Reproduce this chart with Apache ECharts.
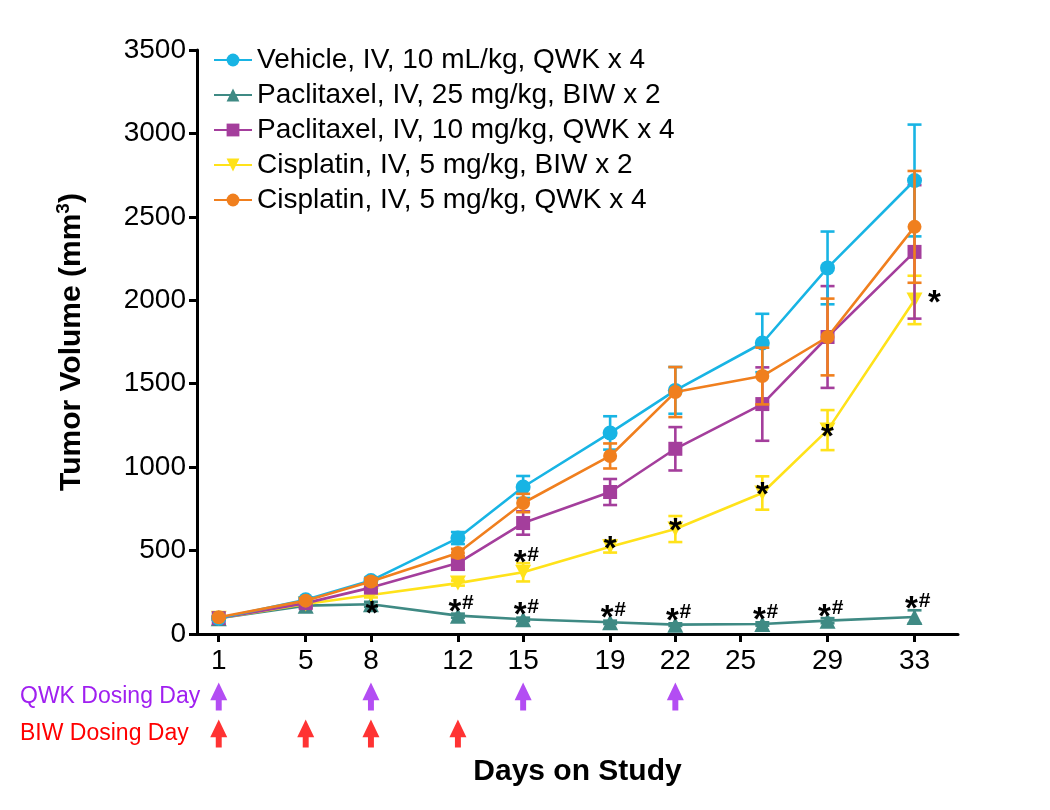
<!DOCTYPE html>
<html>
<head>
<meta charset="utf-8">
<script src="https://cdn.jsdelivr.net/npm/echarts@6/dist/echarts.min.js"></script>
<style>html,body{margin:0;padding:0;background:#fff}#c{width:1050px;height:810px}</style>
</head>
<body>
<div id="c"></div>
<script>
// ---------- data ----------
const days = [1, 5, 8, 12, 15, 19, 22, 26, 29, 33];
const tickDays = [1, 5, 8, 12, 15, 19, 22, 25, 29, 33];
const yTicks = [0, 500, 1000, 1500, 2000, 2500, 3000, 3500];

const seriesNames = [
  'Vehicle, IV, 10 mL/kg, QWK x 4',
  'Paclitaxel, IV, 25 mg/kg, BIW x 2',
  'Paclitaxel, IV, 10 mg/kg, QWK x 4',
  'Cisplatin, IV, 5 mg/kg, BIW x 2',
  'Cisplatin, IV, 5 mg/kg, QWK x 4'
];
const vehicleMean = [95, 205, 320, 575, 881, 1205, 1460, 1744, 2194, 2718];
const vehicleSem  = [10, 15, 18, 36, 66, 100, 140, 175, 218, 335];
const pac25Mean   = [95, 170, 178, 110, 88, 70, 56, 60, 80, 102];
const pac25Sem    = [8, 12, 15, 12, 10, 10, 8, 10, 15, 40];
const pac10Mean   = [95, 185, 278, 425, 665, 851, 1110, 1378, 1780, 2290];
const pac10Sem    = [8, 15, 20, 40, 70, 78, 130, 220, 305, 400];
const cisBiwMean  = [95, 180, 234, 305, 370, 523, 629, 845, 1222, 2002];
const cisBiwSem   = [8, 12, 15, 15, 55, 35, 78, 100, 120, 145];
const cisQwkMean  = [100, 200, 315, 485, 785, 1067, 1450, 1546, 1780, 2440];
const cisQwkSem   = [8, 15, 20, 25, 55, 75, 150, 170, 230, 335];

const sigPac25  = ['', '', '*', '*#', '*#', '*#', '*#', '*#', '*#', '*#'];
const sigCisBiw = ['', '', '', '', '*#', '*', '*', '*', '*', '*'];

const dosingRows = ['QWK Dosing Day', 'BIW Dosing Day'];
const qwkDays = [1, 8, 15, 22];
const biwDays = [1, 5, 8, 12];

// ---------- styles ----------
const FONT = '"Liberation Sans", Arial, sans-serif';
const colors = ['#18B4E4', '#3F8A84', '#A43E9C', '#FFE21A', '#F07F1E'];
const symbols = ['circle', 'triangle', 'rect', 'path://M0,0 L10,0 L5,9 Z', 'circle'];
const symSizes = [15, 16, 14, [16, 15], 14];
const zs = [5, 2, 4, 3, 6];
const means = [vehicleMean, pac25Mean, pac10Mean, cisBiwMean, cisQwkMean];
const sems = [vehicleSem, pac25Sem, pac10Sem, cisBiwSem, cisQwkSem];
const QWK_COLOR = '#A020F0', BIW_COLOR = '#FF0000';

// label nudges (pixel offset of the asterisk centre from the point)
const nudgePac25 = {2: [1, 3], 9: [0, -15]};
const nudgeCisBiw = {4: [0, -16], 8: [0, 0], 9: [20, -4]};

function errRender(color) {
  return function (params, api) {
    const x = api.value(0), m = api.value(1), e = api.value(2);
    const t = api.coord([x, m + e]);
    const b = api.coord([x, m - e]);
    const w = 7;
    const st = {stroke: color, lineWidth: 2.6};
    return {type: 'group', children: [
      {type: 'line', shape: {x1: t[0], y1: t[1], x2: b[0], y2: b[1]}, style: st},
      {type: 'line', shape: {x1: t[0] - w, y1: t[1], x2: t[0] + w, y2: t[1]}, style: st},
      {type: 'line', shape: {x1: b[0] - w, y1: b[1], x2: b[0] + w, y2: b[1]}, style: st}
    ]};
  };
}

function sigRender(sigArr, nudges) {
  return function (params, api) {
    const i = params.dataIndex;
    const s = sigArr[i];
    if (!s) return null;
    const p = api.coord([api.value(0), api.value(1)]);
    const n = nudges[i] || (s === '*#' ? [0, -11] : [0, -5]);
    const cx = p[0] + n[0], cy = p[1] + n[1];
    const children = [];
    const sx = s === '*#' ? cx - 3 : cx;
    children.push({type: 'text', x: sx, y: cy + 8, style: {text: '*', font: 'bold 33px ' + FONT, fill: '#000', align: 'center', verticalAlign: 'middle'}});
    if (s === '*#') {
      children.push({type: 'text', x: cx + 10, y: cy - 1, style: {text: '#', font: 'bold 21px ' + FONT, fill: '#000', align: 'center', verticalAlign: 'middle'}});
    }
    return {type: 'group', children: children};
  };
}

const series = [];
for (let k = 0; k < 5; k++) {
  series.push({
    name: seriesNames[k] + ' err',
    type: 'custom',
    xAxisIndex: 0, yAxisIndex: 0,
    z: zs[k],
    renderItem: errRender(colors[k]),
    encode: {x: 0, y: 1},
    data: days.map((d, i) => [d, means[k][i], sems[k][i]]),
    silent: true
  });
  series.push({
    name: seriesNames[k],
    type: 'line',
    xAxisIndex: 0, yAxisIndex: 0,
    z: zs[k],
    data: days.map((d, i) => [d, means[k][i]]),
    symbol: symbols[k],
    symbolSize: symSizes[k],
    showAllSymbol: true,
    color: colors[k],
    lineStyle: {width: 2.6, color: colors[k]},
    itemStyle: {color: colors[k]}
  });
}
series.push({
  name: 'sig1', type: 'custom', xAxisIndex: 0, yAxisIndex: 0, z: 10,
  renderItem: sigRender(sigPac25, nudgePac25), encode: {x: 0, y: 1},
  data: days.map((d, i) => [d, pac25Mean[i]]), silent: true
});
series.push({
  name: 'sig2', type: 'custom', xAxisIndex: 0, yAxisIndex: 0, z: 10,
  renderItem: sigRender(sigCisBiw, nudgeCisBiw), encode: {x: 0, y: 1},
  data: days.map((d, i) => [d, cisBiwMean[i]]), silent: true
});
const arrowPath = 'path://M8,0 L16,17 L10.8,17 L10.8,27 L5.2,27 L5.2,17 L0,17 Z';
series.push({
  name: 'qwk', type: 'scatter', xAxisIndex: 1, yAxisIndex: 1,
  symbol: arrowPath, symbolSize: [17, 28], itemStyle: {color: QWK_COLOR},
  data: qwkDays.map(d => [d, dosingRows[0]]), silent: true
});
series.push({
  name: 'biw', type: 'scatter', xAxisIndex: 1, yAxisIndex: 1,
  symbol: arrowPath, symbolSize: [17, 28], itemStyle: {color: BIW_COLOR},
  data: biwDays.map(d => [d, dosingRows[1]]), silent: true
});

const option = {
  animation: false,
  backgroundColor: '#fff',
  textStyle: {fontFamily: FONT},
  legend: {
    data: seriesNames,
    orient: 'vertical',
    left: 208, top: 41,
    itemWidth: 38, itemHeight: 16, itemGap: 7,
    selectedMode: false,
    textStyle: {fontSize: 28, color: '#000', fontFamily: FONT, padding: [0, 0, 0, 0]}
  },
  grid: [
    {left: 197, right: 92, top: 50, bottom: 176},
    {left: 197, right: 92, top: 678, height: 74}
  ],
  xAxis: [{
    gridIndex: 0, type: 'value', min: 0, max: 35,
    name: 'Days on Study', nameLocation: 'middle', nameGap: 123,
    nameTextStyle: {fontSize: 30, fontWeight: 'bold', color: '#000', fontFamily: FONT},
    axisLine: {show: true, onZero: false, lineStyle: {color: '#000', width: 3}},
    axisTick: {show: true, customValues: tickDays, length: 8, lineStyle: {color: '#000', width: 3}},
    axisLabel: {customValues: tickDays, fontSize: 28, color: '#000', margin: 13, fontFamily: FONT},
    splitLine: {show: false}
  }, {
    gridIndex: 1, type: 'value', min: 0, max: 35, show: false
  }],
  yAxis: [{
    gridIndex: 0, type: 'value', min: 0, max: 3500, interval: 500,
    name: '{t|Tumor Volume (mm}{s|3}{t|)}', nameLocation: 'middle', nameGap: 108,
    nameTextStyle: {
      fontSize: 30, fontWeight: 'bold', color: '#000', fontFamily: FONT,
      rich: {
        t: {fontSize: 30, fontWeight: 'bold', color: '#000', fontFamily: FONT},
        s: {fontSize: 19, fontWeight: 'bold', color: '#000', fontFamily: FONT, padding: [0, 0, 16, 0]}
      }
    },
    axisLine: {show: true, lineStyle: {color: '#000', width: 3}},
    axisTick: {show: true, length: 8, lineStyle: {color: '#000', width: 3}},
    axisLabel: {fontSize: 28, color: '#000', margin: 11, fontFamily: FONT, formatter: v => String(v)},
    splitLine: {show: false}
  }, {
    gridIndex: 1, type: 'category', data: dosingRows, inverse: true,
    axisLine: {show: false}, axisTick: {show: false}, splitLine: {show: false},
    axisLabel: {
      align: 'left', margin: 177,
      formatter: v => (v.indexOf('QWK') === 0 ? '{q|' + v + '}' : '{b|' + v + '}'),
      rich: {
        q: {color: QWK_COLOR, fontSize: 23, fontFamily: FONT},
        b: {color: BIW_COLOR, fontSize: 23, fontFamily: FONT}
      }
    }
  }],
  series: series
};

const chart = echarts.init(document.getElementById('c'), null, {renderer: 'canvas'});
chart.setOption(option);
</script>
</body>
</html>
